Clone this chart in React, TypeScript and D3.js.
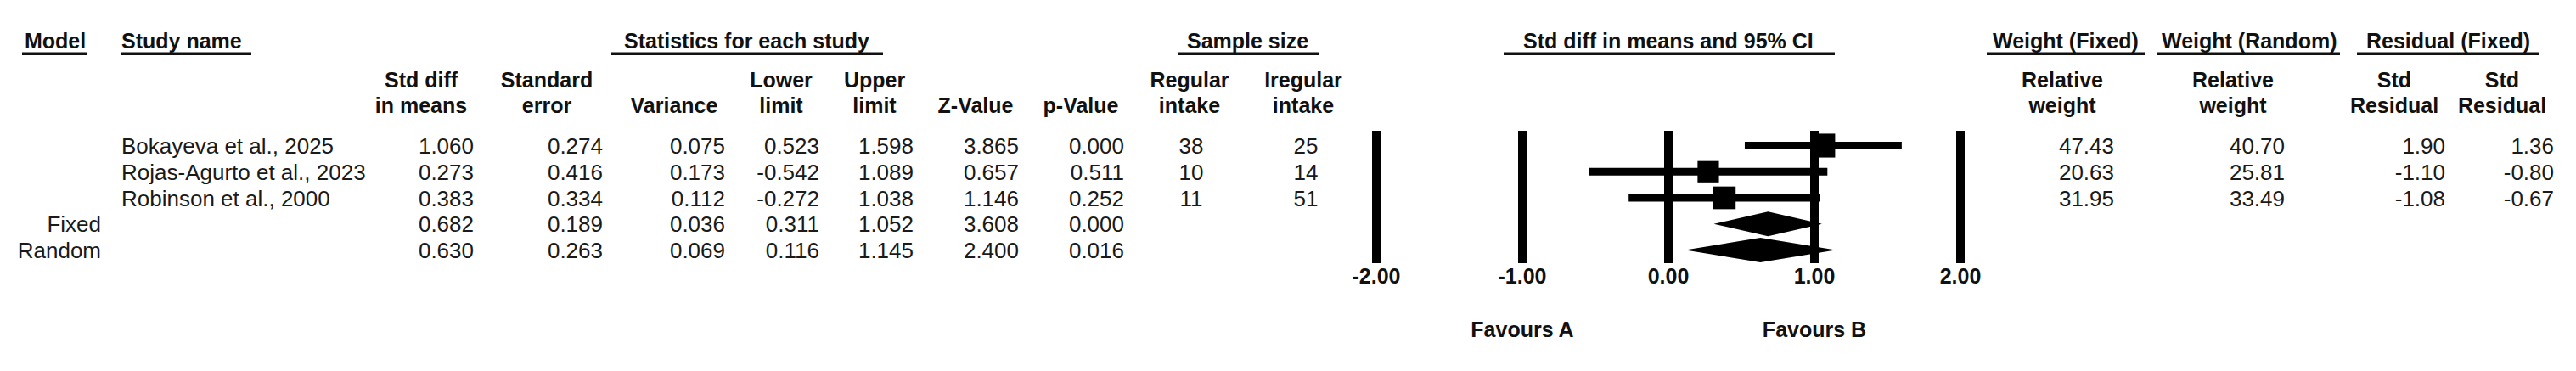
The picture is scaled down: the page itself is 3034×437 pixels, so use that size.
import React from "react";
import * as d3 from "d3";

const studies = ["Bokayeva et al., 2025", "Rojas-Agurto et al., 2023", "Robinson et al., 2000"];
const models = ["Fixed", "Random"];
const stdDiff = [1.06, 0.273, 0.383, 0.682, 0.63];
const stdErr = [0.274, 0.416, 0.334, 0.189, 0.263];
const variance = [0.075, 0.173, 0.112, 0.036, 0.069];
const lower = [0.523, -0.542, -0.272, 0.311, 0.116];
const upper = [1.598, 1.089, 1.038, 1.052, 1.145];
const zValue = [3.865, 0.657, 1.146, 3.608, 2.4];
const pValue = [0.0, 0.511, 0.252, 0.0, 0.016];
const regularIntake = [38, 10, 11];
const iregularIntake = [25, 14, 51];
const weightFixed = [47.43, 20.63, 31.95];
const weightRandom = [40.7, 25.81, 33.49];
const residualFixed = [1.9, -1.1, -1.08];
const residualRandom = [1.36, -0.8, -0.67];
const ticks = [-2, -1, 0, 1, 2];

const FONT = "'Liberation Sans', Arial, sans-serif";

export default function App() {
  const W = 3034;
  const H = 437;
  const x = d3.scaleLinear().domain([-2, 2]).range([1621, 2309]);
  const rowBase = d3.scaleLinear().domain([0, 4]).range([181, 304]);
  const boxSize = d3.scaleLinear().domain([0, 50]).range([20, 30]);

  const groups = [
    { label: "Model", tx: 29, u0: 26, u1: 103 },
    { label: "Study name", tx: 143, u0: 143, u1: 296 },
    { label: "Statistics for each study", tx: 735, u0: 720, u1: 1040 },
    { label: "Sample size", tx: 1398, u0: 1388, u1: 1554 },
    { label: "Std diff in means and 95% CI", tx: 1794, u0: 1771, u1: 2161 },
    { label: "Weight (Fixed)", tx: 2347, u0: 2340, u1: 2526 },
    { label: "Weight (Random)", tx: 2546, u0: 2541, u1: 2756 },
    { label: "Residual (Fixed)", tx: 2787, u0: 2776, u1: 2991 },
  ];

  const cols = [
    { h: ["Std diff", "in means"], hc: 496, vx: 558, anchor: "end", vals: stdDiff.map((v) => v.toFixed(3)) },
    { h: ["Standard", "error"], hc: 644, vx: 710, anchor: "end", vals: stdErr.map((v) => v.toFixed(3)) },
    { h: ["", "Variance"], hc: 794, vx: 854, anchor: "end", vals: variance.map((v) => v.toFixed(3)) },
    { h: ["Lower", "limit"], hc: 920, vx: 965, anchor: "end", vals: lower.map((v) => v.toFixed(3)) },
    { h: ["Upper", "limit"], hc: 1030, vx: 1076, anchor: "end", vals: upper.map((v) => v.toFixed(3)) },
    { h: ["", "Z-Value"], hc: 1149, vx: 1200, anchor: "end", vals: zValue.map((v) => v.toFixed(3)) },
    { h: ["", "p-Value"], hc: 1273, vx: 1324, anchor: "end", vals: pValue.map((v) => v.toFixed(3)) },
    { h: ["Regular", "intake"], hc: 1401, vx: 1403, anchor: "middle", vals: regularIntake.map(String) },
    { h: ["Iregular", "intake"], hc: 1535, vx: 1538, anchor: "middle", vals: iregularIntake.map(String) },
    { h: ["Relative", "weight"], hc: 2429, vx: 2490, anchor: "end", vals: weightFixed.map((v) => v.toFixed(2)) },
    { h: ["Relative", "weight"], hc: 2630, vx: 2691, anchor: "end", vals: weightRandom.map((v) => v.toFixed(2)) },
    { h: ["Std", "Residual"], hc: 2820, vx: 2880, anchor: "end", vals: residualFixed.map((v) => v.toFixed(2)) },
    { h: ["Std", "Residual"], hc: 2947, vx: 3008, anchor: "end", vals: residualRandom.map((v) => v.toFixed(2)) },
  ];

  const lineTop = 154;
  const lineBottom = 310;
  const diamondH = 29;

  return (
    <svg
      width={W}
      height={H}
      style={{ position: "absolute", left: 0, top: 0, background: "#fff" }}
      fontFamily={FONT}
    >
      <rect x={0} y={0} width={W} height={H} fill="#fff" />
      {/* group headers */}
      {groups.map((g, i) => (
        <g key={"g" + i}>
          <text x={g.tx} y={57} fontSize={25} fontWeight="bold" fill="#111">
            {g.label}
          </text>
          <rect x={g.u0} y={61.5} width={g.u1 - g.u0} height={3.5} fill="#111" />
        </g>
      ))}
      {/* column headers and values */}
      {cols.map((c, i) => (
        <g key={"c" + i}>
          {c.h.map((t, j) =>
            t ? (
              <text key={j} x={c.hc} y={103 + j * 30} fontSize={25} fontWeight="bold" textAnchor="middle" fill="#111">
                {t}
              </text>
            ) : null
          )}
          {c.vals.map((v, r) => (
            <text key={r} x={c.vx} y={rowBase(r)} fontSize={26} textAnchor={c.anchor} fill="#1a1a1a">
              {v}
            </text>
          ))}
        </g>
      ))}
      {/* study names */}
      {studies.map((s, i) => (
        <text key={"s" + i} x={143} y={rowBase(i)} fontSize={26} fill="#1a1a1a">
          {s}
        </text>
      ))}
      {models.map((m, i) => (
        <text key={"m" + i} x={119} y={rowBase(i + 3)} fontSize={26} textAnchor="end" fill="#1a1a1a">
          {m}
        </text>
      ))}
      {/* forest plot reference lines */}
      {ticks.map((t) => (
        <g key={"t" + t}>
          <rect x={x(t) - 5} y={lineTop} width={10} height={lineBottom - lineTop} fill="#000" />
          <text x={x(t)} y={334} fontSize={25} fontWeight="bold" textAnchor="middle" fill="#111">
            {t.toFixed(2)}
          </text>
        </g>
      ))}
      {/* study CIs and boxes */}
      {studies.map((s, i) => {
        const cy = rowBase(i) - 9.5;
        const sz = boxSize(weightRandom[i]);
        return (
          <g key={"ci" + i}>
            <rect x={x(lower[i])} y={cy - 4.5} width={x(upper[i]) - x(lower[i])} height={9} fill="#000" />
            <rect x={x(stdDiff[i]) - sz / 2} y={cy - sz / 2} width={sz} height={sz} fill="#000" />
          </g>
        );
      })}
      {/* summary diamonds */}
      {models.map((m, k) => {
        const i = k + 3;
        const cy = rowBase(i) - 9.5;
        const pts: [number, number][] = [
          [x(lower[i]), cy],
          [x(stdDiff[i]), cy - diamondH / 2],
          [x(upper[i]), cy],
          [x(stdDiff[i]), cy + diamondH / 2],
        ];
        const path = d3.line()(pts) + "Z";
        return <path key={"d" + k} d={path} fill="#000" />;
      })}
      {/* favours labels */}
      <text x={x(-1)} y={397} fontSize={25} fontWeight="bold" textAnchor="middle" fill="#111">
        Favours A
      </text>
      <text x={x(1)} y={397} fontSize={25} fontWeight="bold" textAnchor="middle" fill="#111">
        Favours B
      </text>
    </svg>
  );
}
